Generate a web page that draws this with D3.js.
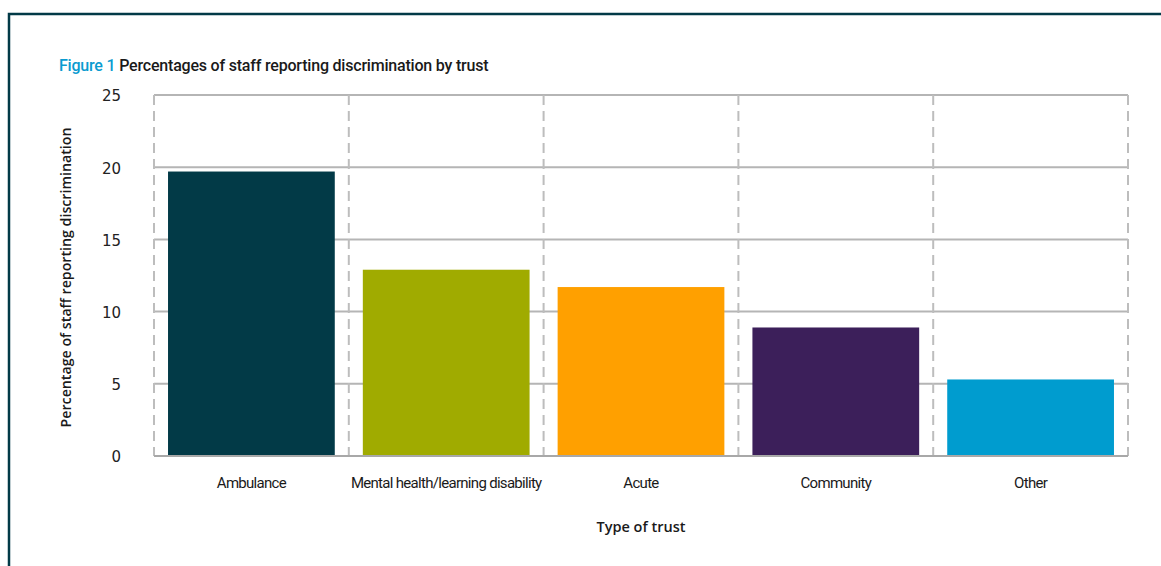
<!DOCTYPE html>
<html><head><meta charset="utf-8">
<script src="https://cdn.jsdelivr.net/npm/d3@7"></script>
<style>
body{margin:0;background:#fff;}
svg{display:block;}
</style></head>
<body>
<svg id="chart" width="1161" height="566"></svg>
<script>
const categories = ["Ambulance","Mental health/learning disability","Acute","Community","Other"];
const values = [19.7, 12.9, 11.7, 8.9, 5.3];
const colors = ["#023a47","#a0ab00","#ffa000","#3c1f5a","#009ccf"];
const yTicks = [0,5,10,15,20,25];

const svg = d3.select("#chart");
const W = 1161, H = 566;
const m = {left:154, right:1128, top:95, bottom:456};

// frame
svg.append("path").attr("d",`M9,${H} L9,14 L${W},14`).attr("fill","none")
  .attr("stroke","#023a47").attr("stroke-width",2.5);

// title
const t = svg.append("text").attr("x",59).attr("y",71)
  .style("font-family","Roboto,'DejaVu Sans Condensed',sans-serif")
  .style("font-size","16px").style("font-weight","500").style("letter-spacing","-0.2px");
t.append("tspan").attr("fill","#0a9bd0").text("Figure 1 ");
t.append("tspan").attr("fill","#1a1a1a").text("Percentages of staff reporting discrimination by trust");

const x = d3.scaleBand().domain(categories).range([m.left,m.right]).paddingInner(0.144).paddingOuter(0.072);
const y = d3.scaleLinear().domain([0,25]).range([m.bottom,m.top]);

// horizontal gridlines
svg.append("g").selectAll("line").data(yTicks).join("line")
  .attr("x1",m.left).attr("x2",m.right)
  .attr("y1",d=>y(d)).attr("y2",d=>y(d))
  .attr("stroke","#b5b5b5").attr("stroke-width",2);

// vertical dashed lines at band boundaries
const bounds = categories.map((c,i)=>m.left + i*(m.right-m.left)/categories.length);
bounds.push(m.right);
svg.append("g").selectAll("line").data(bounds).join("line")
  .attr("x1",d=>d).attr("x2",d=>d).attr("y1",m.top).attr("y2",m.bottom)
  .attr("stroke","#bdbdbd").attr("stroke-width",2).attr("stroke-dasharray","10,6");

// bars
svg.append("g").selectAll("rect").data(categories).join("rect")
  .attr("x",d=>x(d)).attr("width",x.bandwidth())
  .attr("y",(d,i)=>y(values[i])).attr("height",(d,i)=>y(0)-y(values[i]))
  .attr("fill",(d,i)=>colors[i]);

// baseline
svg.append("line").attr("x1",m.left).attr("x2",m.right).attr("y1",y(0)).attr("y2",y(0))
  .attr("stroke","#a8a8a8").attr("stroke-width",2);

// y axis labels
const yAxis = d3.axisLeft(y).tickValues(yTicks).tickSize(0).tickPadding(0);
const gy = svg.append("g").attr("transform","translate(121,1)").call(yAxis);
gy.select(".domain").remove();
gy.selectAll("text").style("font-family","'DejaVu Sans',sans-serif").style("font-size","15px").attr("fill","#222");

// x axis labels
const xAxis = d3.axisBottom(x).tickSize(0).tickPadding(0);
const gx = svg.append("g").attr("transform","translate(0,477)").call(xAxis);
gx.select(".domain").remove();
gx.selectAll("text").style("font-family","Roboto,'DejaVu Sans Condensed',sans-serif")
  .style("font-size","15px").style("letter-spacing","-0.7px").attr("fill","#1a1a1a");

// axis titles
svg.append("text").attr("transform",`translate(71,${(m.top+m.bottom)/2+2}) rotate(-90)`)
  .attr("text-anchor","middle").style("font-family","'Open Sans',sans-serif")
  .style("font-size","14.2px").style("font-weight","600").attr("fill","#1a1a1a")
  .text("Percentage of staff reporting discrimination");
svg.append("text").attr("x",641).attr("y",532).attr("text-anchor","middle")
  .style("font-family","'Open Sans',sans-serif").style("font-size","14.5px").style("font-weight","600")
  .attr("fill","#1a1a1a").text("Type of trust");
</script>
</body></html>
